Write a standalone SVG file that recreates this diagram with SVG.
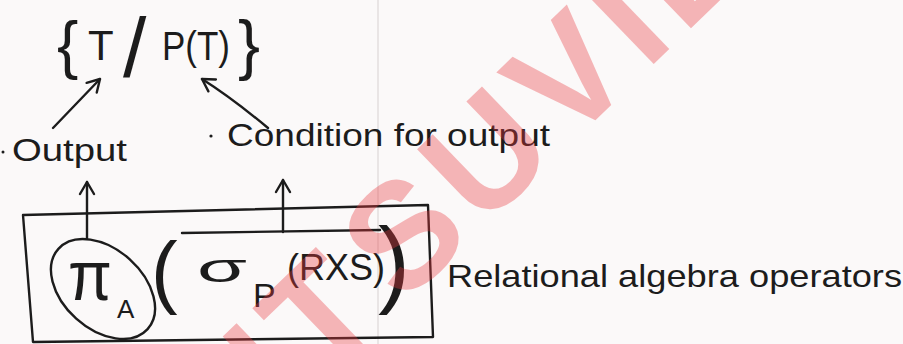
<svg xmlns="http://www.w3.org/2000/svg" width="903" height="344" viewBox="0 0 903 344">
  <defs>
    <marker id="head" markerUnits="userSpaceOnUse" markerWidth="20" markerHeight="20" viewBox="0 0 20 20" refX="18" refY="10" orient="auto">
      <path d="M6,3 L18,10 L6,17" fill="none" stroke="#1c1c1c" stroke-width="2.4" stroke-linecap="round" stroke-linejoin="round"/>
    </marker>
  </defs>
  <style>
    .ink { fill: #1c1c1c; font-family: "Liberation Sans", "DejaVu Sans", sans-serif; }
    .line { fill: none; stroke: #1c1c1c; stroke-width: 2.4; stroke-linecap: round; stroke-linejoin: round; }
    .dot { fill: #1c1c1c; }
    .wm { fill: #e83a3f; fill-opacity: 0.36; font-family: "Liberation Sans", "DejaVu Sans", sans-serif; font-weight: bold; }
  </style>
  <rect width="903" height="344" fill="#fbf9f9"/>
  <line x1="378" y1="0" x2="378" y2="344" stroke="#e9e5e5" stroke-width="2"/>

  <g id="set-expression">
    <text class="ink" x="57" y="67" font-size="64">{</text>
    <text class="ink" x="88" y="60" font-size="42">T</text>
    <text class="ink" x="123" y="77" font-size="84">/</text>
    <text class="ink" x="162" y="60" font-size="40" textLength="68" lengthAdjust="spacingAndGlyphs">P(T)</text>
    <text class="ink" x="238" y="67" font-size="66">}</text>
  </g>

  <g id="output-label">
    <circle class="dot" cx="3" cy="152" r="1.5"/>
    <text class="ink" x="12" y="161" font-size="32" textLength="115" lengthAdjust="spacingAndGlyphs">Output</text>
  </g>

  <g id="condition-label">
    <circle class="dot" cx="211" cy="136" r="1.6"/>
    <text class="ink" x="227" y="146" font-size="32" textLength="323" lengthAdjust="spacingAndGlyphs">Condition for output</text>
  </g>

  <g id="expression-box">
    <path class="line" d="M23,215 L428,205 L433,337 L33,342 Z"/>
    <path class="line" d="M182,233 L380,230"/>
    <ellipse class="line" cx="103" cy="289" rx="60" ry="40" transform="rotate(42 103 289)" stroke-width="1.8"/>
    <text class="ink" x="68" y="300" font-size="70" textLength="44" lengthAdjust="spacingAndGlyphs">π</text>
    <text class="ink" x="117" y="318" font-size="26">A</text>
    <text class="ink" x="151" y="298" font-size="80">(</text>
    <text class="ink" x="197" y="282" font-size="40" textLength="50" lengthAdjust="spacingAndGlyphs">σ</text>
    <text class="ink" x="253" y="307" font-size="34">P</text>
    <text class="ink" x="287" y="280" font-size="36" textLength="98" lengthAdjust="spacingAndGlyphs">(RXS)</text>
    <text class="ink" x="378" y="295" font-size="96">)</text>
  </g>

  <g id="operators-label">
    <text class="ink" x="447" y="287" font-size="32" textLength="455" lengthAdjust="spacingAndGlyphs">Relational algebra operators</text>
  </g>

  <g id="connectors">
    <path class="line" d="M53,128 L100,79" marker-end="url(#head)"/>
    <path class="line" d="M268,128 Q232,98 202,79" marker-end="url(#head)"/>
    <path class="line" d="M87,238 L87,182" marker-end="url(#head)"/>
    <path class="line" d="M283,232 L283,180" marker-end="url(#head)"/>
  </g>

  <g id="watermark" transform="translate(603,113) rotate(-44)">
    <text class="wm" x="-278" y="0" font-size="150" letter-spacing="10" text-anchor="start">SUVIDHA</text>
    <text class="wm" x="-288" y="0" font-size="150" letter-spacing="10" text-anchor="end">STUDENT</text>
  </g>
</svg>
